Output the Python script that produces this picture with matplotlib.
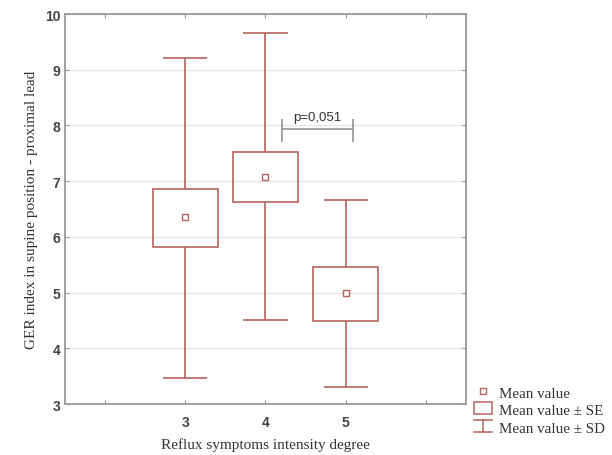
import numpy as np
import matplotlib.pyplot as plt
from matplotlib.patches import Rectangle
from matplotlib.lines import Line2D
from matplotlib.legend_handler import HandlerBase

# valeurs
groups = [3, 4, 5]
mean_val = [6.35, 7.08, 5.00]
se_low = [5.82, 6.62, 4.49]
se_high = [6.86, 7.52, 5.46]
sd_low = [3.47, 4.51, 3.31]
sd_high = [9.21, 9.66, 6.66]

x_ticks = [2, 3, 4, 5, 6]
x_ticklabels = ["", "3", "4", "5", ""]
y_ticks = [3, 4, 5, 6, 7, 8, 9, 10]

p_text = "p=0,051"
p_from, p_to, p_level = 4.21, 5.09, 7.94

col = "#b5635c"
spine_col = "#9a9a9a"
box_w = 0.81
cap_w = 0.55

fig = plt.figure(figsize=(6.12, 4.56), dpi=100)
ax = fig.add_axes([0.1062, 0.1118, 0.6552, 0.8553])

for y in y_ticks:
    ax.axhline(y, color="#e4e4e4", lw=0.9, zorder=0)

for x, m, lo, hi, sl, sh in zip(groups, mean_val, se_low, se_high, sd_low, sd_high):
    ax.add_patch(Rectangle((x - box_w / 2, lo), box_w, hi - lo, fill=False,
                           edgecolor=col, lw=1.2, zorder=3))
    ax.vlines(x, sl, lo, color=col, lw=1.2, zorder=3)
    ax.vlines(x, hi, sh, color=col, lw=1.2, zorder=3)
    ax.hlines([sl, sh], x - cap_w / 2, x + cap_w / 2, color=col, lw=1.2, zorder=3)
    ax.plot(x, m, marker="s", ms=5, mfc="white", mec=col, mew=1.0, ls="none", zorder=4)

# crochet p
ax.hlines(p_level, p_from, p_to, color="#8a8a8a", lw=1.1)
ax.vlines([p_from, p_to], p_level - 0.24, p_level + 0.18, color="#8a8a8a", lw=1.1)
ax.text((p_from + p_to) / 2, p_level + 0.1, p_text, ha="center", va="bottom",
        fontsize=9.5, color="#333333", family="Liberation Sans")

ax.set_xlim(1.5, 6.5)
ax.set_ylim(3, 10)
ax.set_xticks(x_ticks)
ax.set_xticklabels(x_ticklabels)
ax.set_yticks(y_ticks)
ax.tick_params(direction="in", length=3, color=spine_col, labelsize=10,
               labelcolor="#444444", top=True, right=True)
for lab in ax.get_xticklabels() + ax.get_yticklabels():
    lab.set_family("Liberation Sans")
    lab.set_fontweight("bold")
ax.tick_params(axis="x", pad=8)
for s in ax.spines.values():
    s.set_color(spine_col)
    s.set_linewidth(1.3)

ax.set_xlabel("Reflux symptoms intensity degree", family="Liberation Serif",
              fontsize=11, color="#333333", labelpad=6)
ax.set_ylabel("GER index in supine position - proximal lead", family="Liberation Serif",
              fontsize=11, color="#333333", labelpad=5)


class HandlerBox(HandlerBase):
    def create_artists(self, legend, orig, xd, yd, w, h, fs, trans):
        r = Rectangle((xd + 1, yd), w - 2, h, fill=False, edgecolor=col, lw=1.1,
                      transform=trans)
        return [r]


class HandlerWhisker(HandlerBase):
    def create_artists(self, legend, orig, xd, yd, w, h, fs, trans):
        cx = xd + w / 2
        arts = [Line2D([xd + 1, xd + w - 1], [yd, yd]),
                Line2D([xd + 1, xd + w - 1], [yd + h, yd + h]),
                Line2D([cx, cx], [yd, yd + h])]
        for a in arts:
            a.set_color(col)
            a.set_linewidth(1.1)
            a.set_transform(trans)
        return arts


h_mean = Line2D([], [], marker="s", ms=5, mfc="white", mec=col, mew=1.0, ls="none")
h_se = object()
h_sd = object()
leg = fig.legend([h_mean, h_se, h_sd],
                 ["Mean value", "Mean value \u00b1 SE", "Mean value \u00b1 SD"],
                 handler_map={h_se: HandlerBox(), h_sd: HandlerWhisker()},
                 loc="upper left", bbox_to_anchor=(0.762, 0.165), frameon=False,
                 prop={"family": "Liberation Serif", "size": 10.8},
                 handlelength=1.4, handleheight=0.8, handletextpad=0.4,
                 labelspacing=0.25, borderaxespad=0)
for t in leg.get_texts():
    t.set_color("#333333")

fig.savefig("out.png", dpi=100)
